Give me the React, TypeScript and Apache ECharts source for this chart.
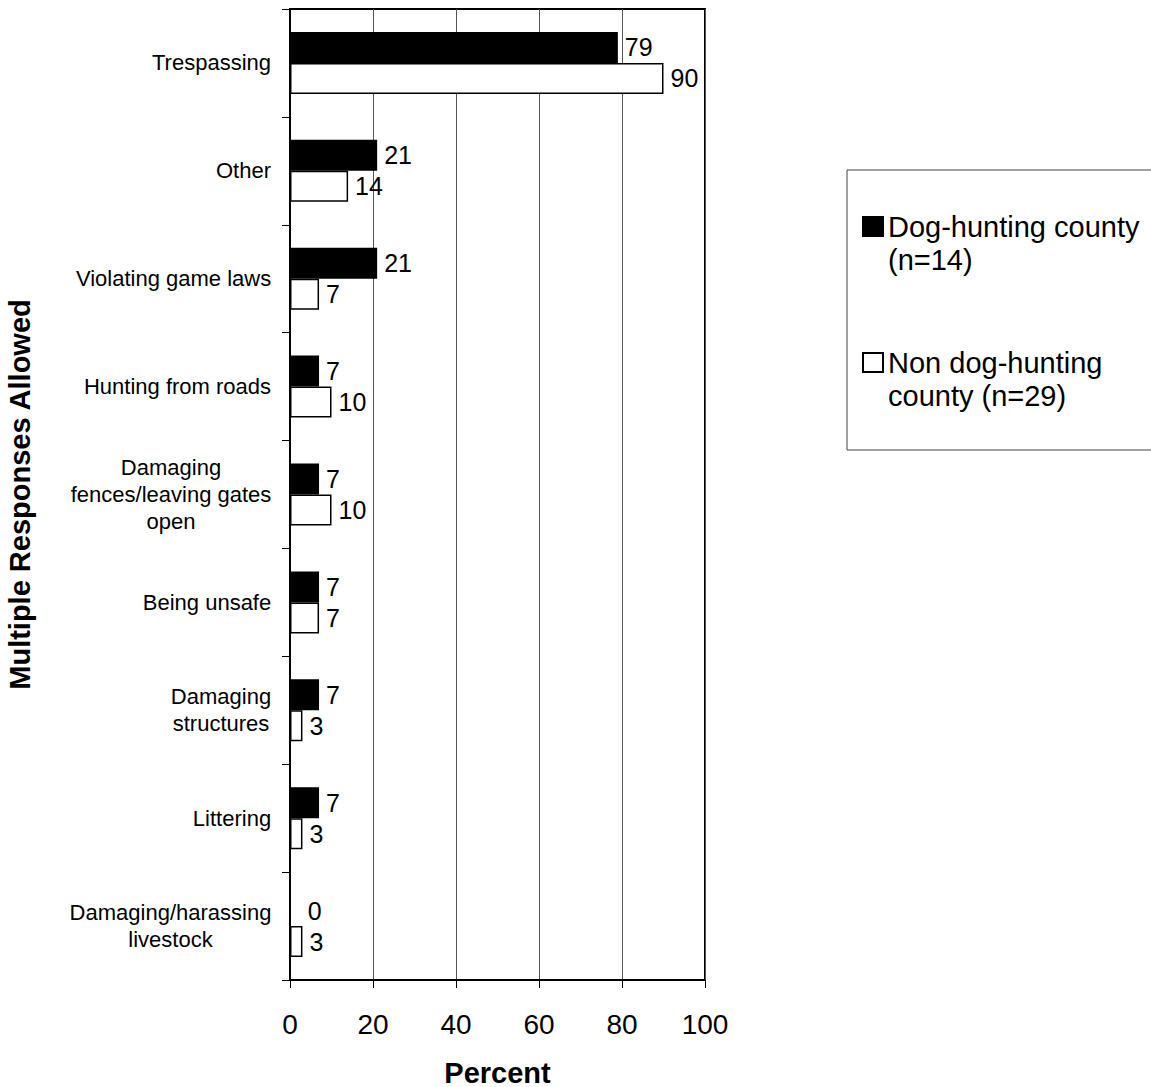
import React, { useEffect, useRef } from "react";
import * as echarts from "echarts";

const categories = [
  "Trespassing",
  "Other",
  "Violating game laws",
  "Hunting from roads",
  "Damaging\nfences/leaving gates\nopen",
  "Being unsafe",
  "Damaging\nstructures",
  "Littering",
  "Damaging/harassing\nlivestock",
];
const dogHunting = [79, 21, 21, 7, 7, 7, 7, 7, 0];
const nonDogHunting = [90, 14, 7, 10, 10, 7, 3, 3, 3];
const seriesNames = ["Dog-hunting county (n=14)", "Non dog-hunting county (n=29)"];
const legendLabels: Record<string, string> = {
  "Dog-hunting county (n=14)": "Dog-hunting county\n(n=14)",
  "Non dog-hunting county (n=29)": "Non dog-hunting\ncounty (n=29)",
};
const xTicks = [0, 20, 40, 60, 80, 100];

const FONT = 'Arial, "Liberation Sans", sans-serif';
const CAT_FONT_SIZE = 22;
const LEGEND_LINE = 33;

export default function App() {
  const ref = useRef<HTMLDivElement>(null);
  useEffect(() => {
    if (!ref.current) return;
    const chart = echarts.init(ref.current, null, { renderer: "svg" });

    // measure each category label's widest line so multi-line labels are centred as a block
    const canvas = document.createElement("canvas");
    const ctx = canvas.getContext("2d");
    const rich: Record<string, any> = {};
    categories.forEach((c, i) => {
      let w = 0;
      if (ctx) {
        ctx.font = `${CAT_FONT_SIZE}px ${FONT}`;
        c.split("\n").forEach((line) => {
          w = Math.max(w, ctx.measureText(line).width);
        });
      }
      rich["c" + i] = {
        width: Math.ceil(w) + 1,
        align: "center",
        fontSize: CAT_FONT_SIZE,
        lineHeight: 27,
        color: "#000",
        fontFamily: FONT,
      };
    });

    const labelStyle = {
      show: true,
      position: "right" as const,
      distance: 7,
      color: "#000",
      fontSize: 25,
      fontFamily: FONT,
    };
    const withZeroLabel = (arr: number[]) =>
      arr.map((v) => (v === 0 ? { value: v, label: { distance: 17 } } : v));

    chart.setOption({
      animation: false,
      backgroundColor: "#fff",
      textStyle: { fontFamily: FONT },
      grid: {
        left: 290,
        top: 9,
        width: 415,
        height: 971,
        outerBoundsMode: "none",
        containLabel: false,
        show: true,
        borderColor: "#000",
        borderWidth: 2,
        backgroundColor: "transparent",
      },
      xAxis: {
        type: "value",
        min: xTicks[0],
        max: xTicks[xTicks.length - 1],
        interval: 20,
        name: "Percent",
        nameLocation: "middle",
        nameGap: 78,
        nameTextStyle: { fontSize: 29, fontWeight: "bold", color: "#000", fontFamily: FONT },
        axisLine: { show: true, lineStyle: { color: "#000", width: 2 } },
        axisTick: { show: true, length: 8, lineStyle: { color: "#000", width: 1 } },
        axisLabel: { fontSize: 28, color: "#000", margin: 30, fontFamily: FONT },
        splitLine: { show: true, lineStyle: { color: "#555", width: 1 } },
      },
      yAxis: {
        type: "category",
        data: categories,
        inverse: true,
        name: "Multiple Responses Allowed",
        nameLocation: "middle",
        nameGap: 256,
        nameRotate: 90,
        nameTextStyle: { fontSize: 29, fontWeight: "bold", color: "#000", fontFamily: FONT },
        axisLine: { show: true, lineStyle: { color: "#000", width: 2 } },
        axisTick: { show: true, length: 8, alignWithLabel: false, lineStyle: { color: "#000", width: 1 } },
        axisLabel: {
          fontSize: CAT_FONT_SIZE,
          lineHeight: 27,
          color: "#000",
          margin: 18,
          align: "right",
          fontFamily: FONT,
          interval: 0,
          formatter: (v: string, idx: number) =>
            v
              .split("\n")
              .map((line) => `{c${idx}|${line}}`)
              .join("\n"),
          rich,
        },
        splitLine: { show: false },
      },
      legend: {
        orient: "vertical",
        left: 857,
        top: 172,
        itemWidth: 20,
        itemHeight: 19,
        itemGap: 37,
        textStyle: {
          fontSize: 29,
          lineHeight: LEGEND_LINE,
          color: "#000",
          fontFamily: FONT,
        },
        // leading empty line so the icon sits beside the first text line
        formatter: (name: string) => "\n" + (legendLabels[name] || name),
        data: seriesNames.map((n) => ({ name: n, icon: "rect" })),
      },
      graphic: [
        {
          type: "rect",
          shape: { x: 847, y: 170, width: 330, height: 280 },
          style: { fill: "none", stroke: "#444", lineWidth: 1 },
          silent: true,
        },
      ],
      series: [
        {
          name: seriesNames[0],
          type: "bar",
          data: withZeroLabel(dogHunting),
          barWidth: 31,
          barGap: "0%",
          itemStyle: { color: "#000", borderColor: "#000", borderWidth: 1.5 },
          label: labelStyle,
        },
        {
          name: seriesNames[1],
          type: "bar",
          data: withZeroLabel(nonDogHunting),
          barWidth: 31,
          barGap: "0%",
          itemStyle: { color: "#fff", borderColor: "#000", borderWidth: 1.5 },
          label: labelStyle,
        },
      ],
    });
    return () => chart.dispose();
  }, []);
  return (
    <div
      ref={ref}
      style={{ position: "absolute", left: 0, top: 0, width: 1151, height: 1087 }}
    />
  );
}
